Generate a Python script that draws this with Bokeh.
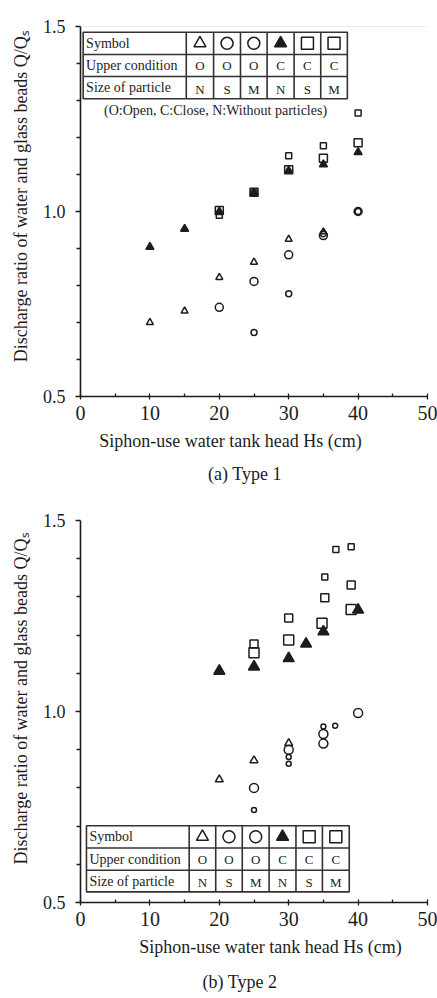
import math
from bokeh.plotting import figure
from bokeh.models import FixedTicker, PrintfTickFormatter, Span, Range1d, Title
from bokeh.layouts import column
from bokeh.core.properties import value
from bokeh.embed import file_html
from bokeh.resources import INLINE

# ---------------- data ----------------
hs_ticks = [0, 10, 20, 30, 40, 50]
hs_minor = [5, 15, 25, 35, 45]
q_ticks = [0.5, 1.0, 1.5]
q_minor = [0.6, 0.7, 0.8, 0.9, 1.1, 1.2, 1.3, 1.4]

x_title = "Siphon-use water tank head Hs (cm)"
y_title = "Discharge ratio of water and glass beads Q/Q\u209b"
captions = ["(a) Type 1", "(b) Type 2"]

table_rows = ["Symbol", "Upper condition", "Size of particle"]
table_upper = ["O", "O", "O", "C", "C", "C"]
table_size = ["N", "S", "M", "N", "S", "M"]
table_note = "(O:Open, C:Close, N:Without particles)"

# Type 1
t1_oN_x = [10, 15, 20, 25, 30, 35]
t1_oN_y = [0.700, 0.731, 0.822, 0.863, 0.925, 0.945]
t1_oS_x = [25, 30, 35, 40]
t1_oS_y = [0.673, 0.778, 0.940, 1.000]
t1_oM_x = [20, 25, 30, 35, 40]
t1_oM_y = [0.741, 0.811, 0.883, 0.935, 1.000]
t1_cN_x = [10, 15, 20, 25, 30, 35, 40]
t1_cN_y = [0.904, 0.953, 1.000, 1.050, 1.110, 1.127, 1.160]
t1_cS_x = [20, 25, 30, 35, 40]
t1_cS_y = [0.990, 1.050, 1.151, 1.178, 1.266]
t1_cM_x = [20, 25, 30, 35, 40]
t1_cM_y = [1.003, 1.052, 1.113, 1.144, 1.186]

# Type 2
t2_oN_x = [20, 25, 30]
t2_oN_y = [0.822, 0.872, 0.917]
t2_oS_x = [25, 30, 30, 35, 36.7]
t2_oS_y = [0.742, 0.881, 0.863, 0.961, 0.963]
t2_oM_x = [25, 30, 35, 35, 40]
t2_oM_y = [0.800, 0.900, 0.941, 0.916, 0.996]
t2_cN_x = [20, 25, 30, 32.5, 35, 40]
t2_cN_y = [1.106, 1.117, 1.139, 1.177, 1.209, 1.266]
t2_cS_x = [25, 30, 35.2, 39]
t2_cS_y = [1.177, 1.245, 1.298, 1.331]
t2_cS_small_x = [35.2, 36.8, 39]
t2_cS_small_y = [1.352, 1.424, 1.431]
t2_cM_x = [25, 30, 34.8, 39]
t2_cM_y = [1.154, 1.187, 1.231, 1.267]

# ---------------- styling helpers ----------------
FONT = "Liberation Serif"
INK = "#1c1c1c"
W = 437

TW = {' ': 250, '(': 333, ')': 333, '-': 333, '/': 278, '.': 250, ',': 250, ':': 278,
      'a': 444, 'b': 500, 'c': 444, 'd': 500, 'e': 444, 'f': 333, 'g': 500, 'h': 500,
      'i': 278, 'k': 500, 'l': 278, 'm': 778, 'n': 500, 'o': 500, 'p': 500, 'r': 333,
      's': 389, 't': 278, 'u': 500, 'w': 722, 'y': 500, 'S': 556, 'T': 611, 'H': 722,
      'Q': 722, 'D': 722}


def tw(s, size):
    return sum(TW.get(c, 500) for c in s) / 1000.0 * size


def make_panel(height, top_off, geom):
    L, R, T, B = geom
    p = figure(width=W, height=height, x_range=Range1d(0, 50), y_range=Range1d(0.5, 1.5),
               output_backend="svg", toolbar_location=None,
               min_border_left=L, min_border_right=W - R,
               min_border_top=T - top_off, min_border_bottom=height - (B - top_off))
    p.grid.visible = False
    p.outline_line_color = None
    p.background_fill_color = "white"
    p.border_fill_color = "white"
    p.xaxis.ticker = FixedTicker(ticks=hs_ticks, minor_ticks=hs_minor)
    p.yaxis.ticker = FixedTicker(ticks=q_ticks, minor_ticks=q_minor)
    p.yaxis.formatter = PrintfTickFormatter(format="%.1f")
    for ax in (p.xaxis, p.yaxis):
        ax.axis_line_color = INK
        ax.axis_line_width = 1.6
        ax.major_tick_line_color = INK
        ax.minor_tick_line_color = INK
        ax.major_tick_line_width = 1.3
        ax.minor_tick_line_width = 1.3
        ax.major_label_text_font = FONT
        ax.major_label_text_color = INK
    p.xaxis.major_tick_in = 3
    p.xaxis.major_tick_out = 3
    p.xaxis.minor_tick_in = 3
    p.xaxis.minor_tick_out = 0
    p.xaxis.major_label_text_font_size = "20px"
    p.xaxis.major_label_standoff = 6
    p.yaxis.major_tick_in = 0
    p.yaxis.major_tick_out = 5
    p.yaxis.minor_tick_in = 0
    p.yaxis.minor_tick_out = 4
    p.yaxis.major_label_text_font_size = "18px"
    p.yaxis.major_label_standoff = 10

    def conv(px, py):
        return ((px - L) / (R - L) * 50.0, 1.5 - (py - T) / (B - T))
    return p, conv


def add_titles(p, geom, xcenter, capcenter, caption, ystart, sx, sc, sy):
    L, R, T, B = geom
    p.add_layout(Title(text=x_title, align="left", offset=xcenter - tw(x_title, 18) / 2.0 - L,
                       text_font=FONT, text_font_size="18px", text_font_style="normal",
                       text_color=INK, standoff=sx), "below")
    p.add_layout(Title(text=caption, align="left", offset=capcenter - tw(caption, 18) / 2.0 - L,
                       text_font=FONT, text_font_size="18px", text_font_style="normal",
                       text_color=INK, standoff=sc), "below")
    p.add_layout(Title(text=y_title, align="left", offset=B - ystart,
                       text_font=FONT, text_font_size="18px", text_font_style="normal",
                       text_color=INK, standoff=sy), "left")


def draw_table(p, conv, cols, rows, sym_size):
    x0, y0 = conv(cols[0], rows[0])
    x1, y1 = conv(cols[-1], rows[-1])
    p.quad(left=[x0], right=[x1], top=[y0], bottom=[y1], fill_color="white",
           line_color="#333333", line_width=1.6)
    xs, ys = [], []
    for r in rows[1:-1]:
        a, b = conv(cols[0], r)
        c, d = conv(cols[-1], r)
        xs.append([a, c]); ys.append([b, d])
    for c_ in cols[1:-1]:
        a, b = conv(c_, rows[0])
        c, d = conv(c_, rows[-1])
        xs.append([a, c]); ys.append([b, d])
    p.multi_line(xs=xs, ys=ys, line_color="#333333", line_width=1.6)
    hx, hy = [], []
    for i in range(3):
        a, b = conv(cols[0] + 3, (rows[i] + rows[i + 1]) / 2.0)
        hx.append(a); hy.append(b)
    p.text(x=hx, y=hy, text=table_rows, text_font=value(FONT), text_font_size="14px",
           text_color=INK, text_align="left", text_baseline="middle")
    cxs = [conv((cols[i] + cols[i + 1]) / 2.0, 0)[0] for i in range(1, 7)]
    ry = [conv(0, (rows[i] + rows[i + 1]) / 2.0)[1] for i in range(3)]
    p.text(x=cxs, y=[ry[1]] * 6, text=table_upper, text_font=value(FONT), text_font_size="13px",
           text_color=INK, text_align="center", text_baseline="middle")
    p.text(x=cxs, y=[ry[2] - 0.004] * 6, text=table_size, text_font=value(FONT), text_font_size="13px",
           text_color=INK, text_align="center", text_baseline="middle")
    kinds = [("triangle", False), ("circle", False), ("circle", False),
             ("triangle", True), ("square", False), ("square", False)]
    for cx_, (mk, filled) in zip(cxs, kinds):
        p.scatter(x=[cx_], y=[ry[0]], marker=mk, size=sym_size,
                  fill_color=INK if filled else None, line_color=INK, line_width=1.5)


def pts(p, xs, ys, marker, size, filled=False, lw=1.5):
    p.scatter(x=xs, y=ys, marker=marker, size=size,
              fill_color=INK if filled else None, line_color=INK, line_width=lw)


# ---------------- panel 1 ----------------
G1 = (75, 427, 26, 396)
p1, c1 = make_panel(497, 0, G1)
p1.add_layout(Span(location=1.5, dimension="width", line_color="#d8d8d8", line_width=1))
pts(p1, t1_oN_x, t1_oN_y, "triangle", 7)
pts(p1, t1_oM_x, t1_oM_y, "circle", 8)
pts(p1, t1_oS_x, t1_oS_y, "circle", 6)
pts(p1, t1_cS_x, t1_cS_y, "square", 6)
pts(p1, t1_cM_x, t1_cM_y, "square", 8)
pts(p1, t1_cN_x, t1_cN_y, "triangle", 8, filled=True)
draw_table(p1, c1, [77.7, 182.3, 210, 237.3, 264.3, 291.7, 318.7, 345.7],
           [31.7, 54, 76, 98.3], 12)
nx, ny = c1(212, 110)
p1.text(x=[nx], y=[ny], text=[table_note], text_font=value(FONT), text_font_size="14px",
        text_color=INK, text_align="center", text_baseline="middle")
add_titles(p1, G1, 225, 240, captions[0], 361.7, 13, 9, 17)

# ---------------- panel 2 ----------------
G2 = (78, 427, 520, 903)
p2, c2 = make_panel(501, 497, G2)
pts(p2, t2_oN_x, t2_oN_y, "triangle", 8)
pts(p2, t2_oM_x, t2_oM_y, "circle", 9)
pts(p2, t2_oS_x, t2_oS_y, "circle", 5)
pts(p2, t2_cS_small_x, t2_cS_small_y, "square", 6)
pts(p2, t2_cS_x, t2_cS_y, "square", 8)
pts(p2, t2_cM_x, t2_cM_y, "square", 10)
pts(p2, t2_cN_x, t2_cN_y, "triangle", 11, filled=True)
draw_table(p2, c2, [84, 187.3, 214, 240.7, 267.7, 294.7, 321.3, 348.3],
           [826, 848.3, 870.7, 892.3], 12)
add_titles(p2, G2, 268, 238, captions[1], 865, 12, 14, 17)

layout = column(p1, p2)
open("out.html", "w").write(file_html(layout, INLINE))
